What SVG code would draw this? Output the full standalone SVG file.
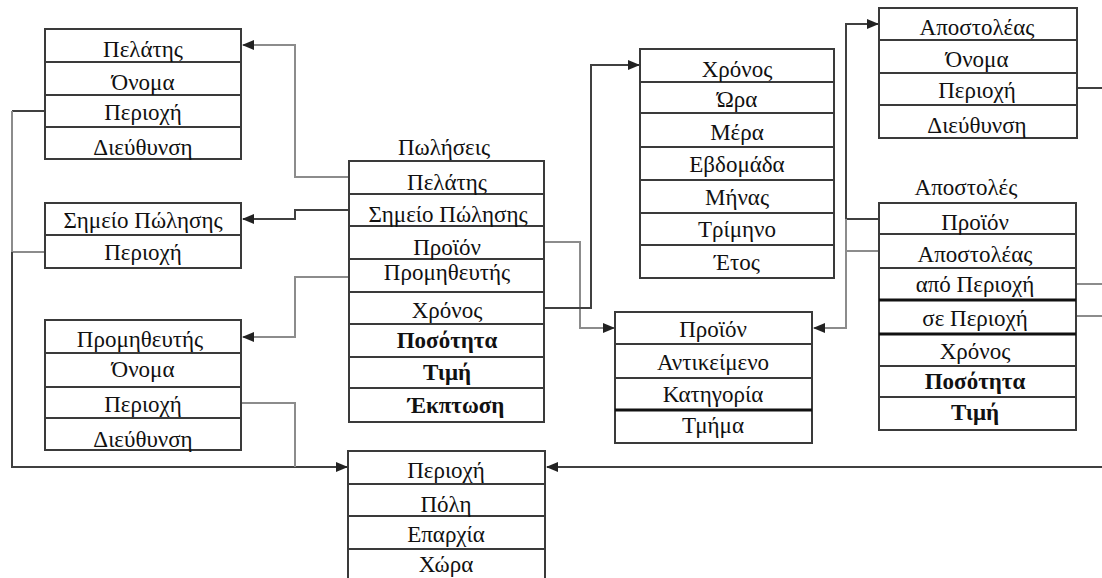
<svg xmlns="http://www.w3.org/2000/svg" width="1102" height="578" viewBox="0 0 1102 578">
  <defs>
    <style>
      .box { fill: #ffffff; stroke: #3a3a3a; stroke-width: 2; }
      .div { stroke: #3a3a3a; stroke-width: 2; }
      .thick { stroke: #111111; stroke-width: 3; }
      text { font-family: "Liberation Serif", "DejaVu Serif", "Times New Roman", serif; font-size: 23px; fill: #111111; text-anchor: middle; }
      .b { font-weight: bold; }
      .dark { fill: none; stroke: #404040; stroke-width: 2; }
      .grey { fill: none; stroke: #8c8c8c; stroke-width: 2; }
    </style>
    <marker id="arrow" markerUnits="userSpaceOnUse" markerWidth="12" markerHeight="10" refX="11" refY="5" orient="auto">
      <path d="M0,0 L12,5 L0,10 Z" fill="#222222"/>
    </marker>
  </defs>
  <rect width="1102" height="578" fill="#ffffff"/>

  <!-- connectors -->
  <g id="connectors">
    <path class="grey" d="M349,177 H295 V45 H243" marker-end="url(#arrow)"/>
    <path class="dark" d="M349,210 H295 V219 H243" marker-end="url(#arrow)"/>
    <path class="grey" d="M349,277 H295 V337 H243" marker-end="url(#arrow)"/>
    <path class="grey" d="M544,242 H580 V328 H614" marker-end="url(#arrow)"/>
    <path class="dark" d="M544,308 H591 V65 H639" marker-end="url(#arrow)"/>
    <path class="dark" d="M45,111 H12"/>
    <path class="grey" d="M12,111 V252 H45"/>
    <path class="dark" d="M12,252 V467 H347" marker-end="url(#arrow)"/>
    <path class="grey" d="M241,403 H295 V467"/>
    <path class="dark" d="M879,219 H846"/>
    <path class="grey" d="M846,219 V328 H814" marker-end="url(#arrow)"/>
    <path class="grey" d="M879,251 H846 V219"/>
    <path class="dark" d="M846,219 V24 H878" marker-end="url(#arrow)"/>
    <path class="dark" d="M1077,88 H1102"/>
    <path class="grey" d="M1076,284 H1102"/>
    <path class="grey" d="M1076,316 H1102"/>
    <path class="dark" d="M1102,467 H547" marker-end="url(#arrow)"/>
  </g>

  <!-- customer dimension -->
  <g id="pelatis">
    <rect class="box" x="45" y="29" width="196" height="130"/>
    <line class="div" x1="45" y1="62" x2="241" y2="62"/>
    <line class="div" x1="45" y1="95" x2="241" y2="95"/>
    <line class="div" x1="45" y1="127" x2="241" y2="127"/>
    <text x="143" y="57">Πελάτης</text>
    <text x="143" y="90">Όνομα</text>
    <text x="143" y="120">Περιοχή</text>
    <text x="143" y="155">Διεύθυνση</text>
  </g>

  <!-- point of sale dimension -->
  <g id="simeio-polisis">
    <rect class="box" x="45" y="203" width="196" height="65"/>
    <line class="div" x1="45" y1="235" x2="241" y2="235"/>
    <text x="143" y="228">Σημείο Πώλησης</text>
    <text x="143" y="260">Περιοχή</text>
  </g>

  <!-- supplier dimension -->
  <g id="promitheftis">
    <rect class="box" x="45" y="320" width="196" height="130"/>
    <line class="div" x1="45" y1="353" x2="241" y2="353"/>
    <line class="div" x1="45" y1="387" x2="241" y2="387"/>
    <line class="div" x1="45" y1="418" x2="241" y2="418"/>
    <text x="140" y="347">Προμηθευτής</text>
    <text x="143" y="377">Όνομα</text>
    <text x="143" y="412">Περιοχή</text>
    <text x="143" y="447">Διεύθυνση</text>
  </g>

  <!-- sales fact table -->
  <g id="poliseis">
    <text x="444" y="155">Πωλήσεις</text>
    <rect class="box" x="349" y="161" width="195" height="261"/>
    <line class="div" x1="349" y1="194" x2="544" y2="194"/>
    <line class="div" x1="349" y1="226" x2="544" y2="226"/>
    <line class="div" x1="349" y1="259" x2="544" y2="259"/>
    <line class="div" x1="349" y1="292" x2="544" y2="292"/>
    <line class="div" x1="349" y1="324" x2="544" y2="324"/>
    <line class="div" x1="349" y1="357" x2="544" y2="357"/>
    <line class="div" x1="349" y1="388" x2="544" y2="388"/>
    <text x="447" y="190">Πελάτης</text>
    <text x="448" y="222">Σημείο Πώλησης</text>
    <text x="447" y="255">Προϊόν</text>
    <text x="447" y="280">Προμηθευτής</text>
    <text x="447" y="318">Χρόνος</text>
    <text class="b" x="447" y="348">Ποσότητα</text>
    <text class="b" x="447" y="380">Τιμή</text>
    <text class="b" x="456" y="413">Έκπτωση</text>
  </g>

  <!-- time dimension -->
  <g id="xronos">
    <rect class="box" x="640" y="49" width="194" height="229"/>
    <line class="div" x1="640" y1="82" x2="834" y2="82"/>
    <line class="div" x1="640" y1="113" x2="834" y2="113"/>
    <line class="div" x1="640" y1="147" x2="834" y2="147"/>
    <line class="div" x1="640" y1="180" x2="834" y2="180"/>
    <line class="div" x1="640" y1="213" x2="834" y2="213"/>
    <line class="div" x1="640" y1="245" x2="834" y2="245"/>
    <text x="737" y="77">Χρόνος</text>
    <text x="737" y="107">Ώρα</text>
    <text x="737" y="140">Μέρα</text>
    <text x="737" y="172">Εβδομάδα</text>
    <text x="737" y="205">Μήνας</text>
    <text x="737" y="237">Τρίμηνο</text>
    <text x="737" y="270">Έτος</text>
  </g>

  <!-- product dimension -->
  <g id="proion">
    <rect class="box" x="615" y="312" width="197" height="131"/>
    <line class="div" x1="615" y1="344" x2="812" y2="344"/>
    <line class="div" x1="615" y1="378" x2="812" y2="378"/>
    <line class="thick" x1="615" y1="410" x2="812" y2="410"/>
    <text x="713" y="337">Προϊόν</text>
    <text x="713" y="370">Αντικείμενο</text>
    <text x="713" y="402">Κατηγορία</text>
    <text x="713" y="433">Τμήμα</text>
  </g>

  <!-- shipper dimension -->
  <g id="apostoleas">
    <rect class="box" x="879" y="8" width="198" height="130"/>
    <line class="div" x1="879" y1="40" x2="1077" y2="40"/>
    <line class="div" x1="879" y1="73" x2="1077" y2="73"/>
    <line class="div" x1="879" y1="105" x2="1077" y2="105"/>
    <text x="977" y="35">Αποστολέας</text>
    <text x="977" y="67">Όνομα</text>
    <text x="977" y="98">Περιοχή</text>
    <text x="977" y="133">Διεύθυνση</text>
  </g>

  <!-- shipments fact table -->
  <g id="apostoles">
    <text x="966" y="195">Αποστολές</text>
    <rect class="box" x="879" y="203" width="197" height="227"/>
    <line class="div" x1="879" y1="234" x2="1076" y2="234"/>
    <line class="div" x1="879" y1="268" x2="1076" y2="268"/>
    <line class="thick" x1="879" y1="300" x2="1076" y2="300"/>
    <line class="thick" x1="879" y1="334" x2="1076" y2="334"/>
    <line class="div" x1="879" y1="366" x2="1076" y2="366"/>
    <line class="div" x1="879" y1="397" x2="1076" y2="397"/>
    <text x="975" y="230">Προϊόν</text>
    <text x="975" y="262">Αποστολέας</text>
    <text x="975" y="292">από Περιοχή</text>
    <text x="975" y="326">σε Περιοχή</text>
    <text x="975" y="359">Χρόνος</text>
    <text class="b" x="975" y="389">Ποσότητα</text>
    <text class="b" x="975" y="420">Τιμή</text>
  </g>

  <!-- region dimension -->
  <g id="periochi">
    <rect class="box" x="348" y="451" width="197" height="140"/>
    <line class="div" x1="348" y1="484" x2="545" y2="484"/>
    <line class="div" x1="348" y1="516" x2="545" y2="516"/>
    <line class="div" x1="348" y1="549" x2="545" y2="549"/>
    <text x="446" y="478">Περιοχή</text>
    <text x="446" y="512">Πόλη</text>
    <text x="446" y="542">Επαρχία</text>
    <text x="446" y="572">Χώρα</text>
  </g>
</svg>
